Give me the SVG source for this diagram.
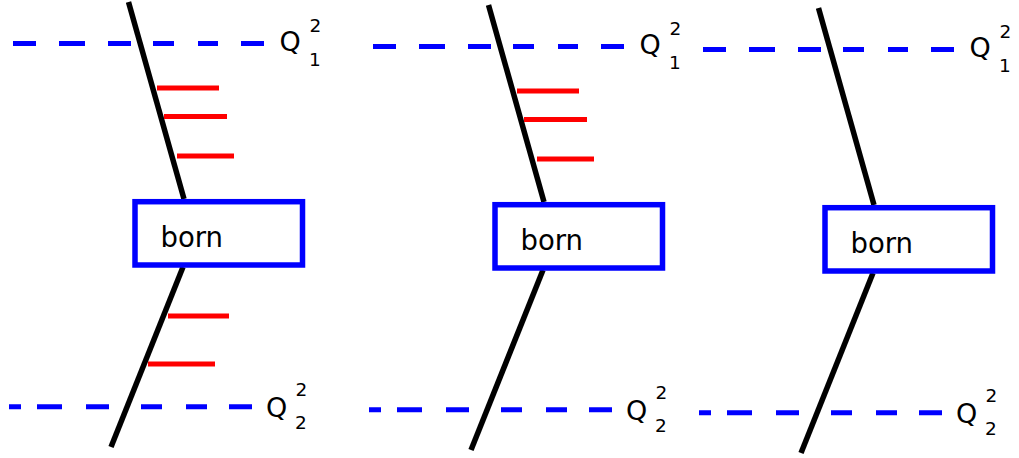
<svg xmlns="http://www.w3.org/2000/svg" width="1019" height="458" viewBox="0 0 1019 458">
<style>
.dash{fill:none;stroke:#0000ff;stroke-width:5}
.quark{fill:none;stroke:#000;stroke-width:5.5}
.gluon{fill:none;stroke:#ff0000;stroke-width:5}
.box{fill:#fff;stroke:#0000ff;stroke-width:5.5}
.t{font-family:"DejaVu Sans",sans-serif;fill:#000}
.q{font-size:27px}
.s{font-size:18.5px}
.b{font-size:27.5px}
</style>
<rect width="1019" height="458" fill="#fff"/>

<!-- Panel 1 -->
<g id="panel1">
  <g id="connectors1">
    <path class="dash" d="M13 43.5H36M59 43.5H85M108 43.5H131M153 43.5H174M198 43.5H218M241 43.5H264"/>
    <path class="dash" d="M9 406.7H21M37 406.7H62M86 406.7H109M141 406.7H162M186 406.7H207M229 406.7H252"/>
    <path class="quark" d="M128.5 2L184 199"/>
    <path class="quark" d="M183 267L111 447"/>
    <path class="gluon" d="M157 88H219M164 116.5H227M177 156H234"/>
    <path class="gluon" d="M168 316H229M148 364H215"/>
  </g>
  <g id="born1">
    <rect class="box" x="135" y="201.7" width="167.5" height="63.3"/>
    <text class="t b" x="160.5" y="246.5">born</text>
  </g>
  <g id="q1a">
    <text class="t q" x="279.5" y="51">Q</text>
    <text class="t s" x="309.5" y="31.5">2</text>
    <text class="t s" x="309" y="66">1</text>
  </g>
  <g id="q2a">
    <text class="t q" x="266" y="416.5">Q</text>
    <text class="t s" x="295.5" y="396">2</text>
    <text class="t s" x="295" y="428.5">2</text>
  </g>
</g>

<!-- Panel 2 -->
<g id="panel2" transform="translate(360,3)">
  <g id="connectors2">
    <path class="dash" d="M13 43.5H36M59 43.5H85M108 43.5H131M153 43.5H174M198 43.5H218M241 43.5H264"/>
    <path class="dash" d="M9 406.7H21M37 406.7H62M86 406.7H109M141 406.7H162M186 406.7H207M229 406.7H252"/>
    <path class="quark" d="M128.5 2L184 199"/>
    <path class="quark" d="M183 267L111 447"/>
    <path class="gluon" d="M157 88H219M164 116.5H227M177 156H234"/>
  </g>
  <g id="born2">
    <rect class="box" x="135" y="201.7" width="167.5" height="63.3"/>
    <text class="t b" x="160.5" y="246.5">born</text>
  </g>
  <g id="q1b">
    <text class="t q" x="279.5" y="51">Q</text>
    <text class="t s" x="309.5" y="31.5">2</text>
    <text class="t s" x="309" y="66">1</text>
  </g>
  <g id="q2b">
    <text class="t q" x="266" y="416.5">Q</text>
    <text class="t s" x="295.5" y="396">2</text>
    <text class="t s" x="295" y="428.5">2</text>
  </g>
</g>

<!-- Panel 3 -->
<g id="panel3" transform="translate(690,6)">
  <g id="connectors3">
    <path class="dash" d="M13 43.5H36M59 43.5H85M108 43.5H131M153 43.5H174M198 43.5H218M241 43.5H264"/>
    <path class="dash" d="M9 406.7H21M37 406.7H62M86 406.7H109M141 406.7H162M186 406.7H207M229 406.7H252"/>
    <path class="quark" d="M128.5 2L184 199"/>
    <path class="quark" d="M183 267L111 447"/>
  </g>
  <g id="born3">
    <rect class="box" x="135" y="201.7" width="167.5" height="63.3"/>
    <text class="t b" x="160.5" y="246.5">born</text>
  </g>
  <g id="q1c">
    <text class="t q" x="279.5" y="51">Q</text>
    <text class="t s" x="309.5" y="31.5">2</text>
    <text class="t s" x="309" y="66">1</text>
  </g>
  <g id="q2c">
    <text class="t q" x="266" y="416.5">Q</text>
    <text class="t s" x="295.5" y="396">2</text>
    <text class="t s" x="295" y="428.5">2</text>
  </g>
</g>
</svg>
